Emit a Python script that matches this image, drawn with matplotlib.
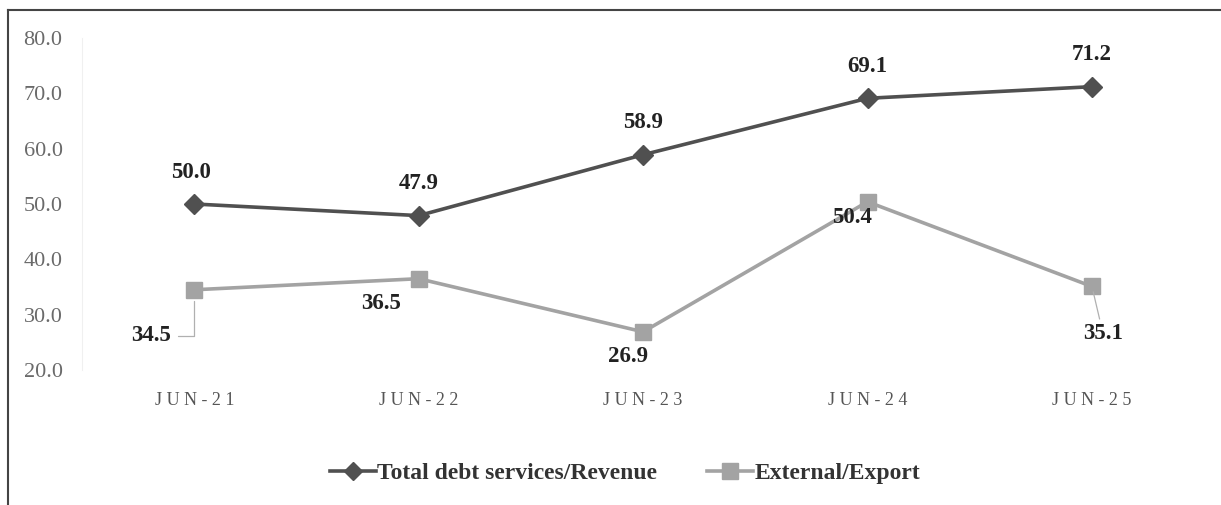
import matplotlib.pyplot as plt
from matplotlib.lines import Line2D

periods = ['JUN-21', 'JUN-22', 'JUN-23', 'JUN-24', 'JUN-25']
debt_revenue = [50.0, 47.9, 58.9, 69.1, 71.2]
external_export = [34.5, 36.5, 26.9, 50.4, 35.1]

plt.rcParams['font.family'] = ['Liberation Serif', 'DejaVu Serif']

fig = plt.figure(figsize=(12.21, 5.05), dpi=100)
ax = fig.add_axes([0.0672, 0.2673, 0.919, 0.6575])

x = list(range(len(periods)))
dark = '#505050'
light = '#a3a3a3'

ax.plot(x, debt_revenue, color=dark, linewidth=2.6, marker='D', markersize=10,
        label='Total debt services/Revenue')
ax.plot(x, external_export, color=light, linewidth=2.6, marker='s', markersize=12,
        label='External/Export')

# value labels for the revenue series sit above each point
for xi, v in zip(x, debt_revenue):
    ax.annotate(f'{v:.1f}', (xi, v), xytext=(-2 if xi == 0 else 0, 23), textcoords='offset points',
                ha='center', va='center', fontsize=16.5, fontweight='bold', color='#222222')

# export series labels, some with leader lines
offsets = [(-31, -33), (-27, -18), (-11, -18), (-11, -11), (8, -34)]
leaders = ['angle', None, None, None, 'straight']
for xi, v, off, lead in zip(x, external_export, offsets, leaders):
    props = None
    if lead == 'angle':
        props = dict(arrowstyle='-', color='#b0b0b0', lw=0.9, shrinkA=3, shrinkB=8,
                     connectionstyle='angle,angleA=0,angleB=90,rad=0')
    elif lead == 'straight':
        props = dict(arrowstyle='-', color='#b0b0b0', lw=0.9, shrinkA=1, shrinkB=4)
    ax.annotate(f'{v:.1f}', (xi, v), xytext=off, textcoords='offset points',
                ha='center', va='center', fontsize=16.5, fontweight='bold', color='#222222',
                arrowprops=props)

ax.set_xlim(-0.5, len(periods) - 0.5)
ax.set_ylim(20, 80)
ax.set_yticks(range(20, 81, 10))
ax.set_yticklabels([f'{t:.1f}' for t in range(20, 81, 10)], fontsize=16, color='#6a6a6a')
ax.set_xticks(x)
ax.set_xticklabels([' '.join(p) for p in periods], fontsize=13, color='#555555')
ax.tick_params(axis='both', length=0)
ax.tick_params(axis='x', pad=16)
ax.tick_params(axis='y', pad=14)

for side in ['top', 'right', 'bottom']:
    ax.spines[side].set_visible(False)
ax.spines['left'].set_color('#f0f0f0')

handles = [Line2D([], [], color=dark, linewidth=2.6, marker='D', markersize=9),
           Line2D([], [], color=light, linewidth=2.6, marker='s', markersize=11)]
fig.legend(handles, ['Total debt services/Revenue', 'External/Export'],
           loc='center', bbox_to_anchor=(0.512, 0.063), ncol=2, frameon=False,
           prop={'size': 17, 'weight': 'bold'}, handlelength=1.95, handletextpad=0.05,
           columnspacing=2.1, labelcolor='#333333')

# outer frame of the chart box
fig.add_artist(Line2D([0.0066, 0.0066], [0.0, 0.98], color='#444444', linewidth=1.5,
                      transform=fig.transFigure))
fig.add_artist(Line2D([0.0066, 1.0], [0.98, 0.98], color='#444444', linewidth=1.5,
                      transform=fig.transFigure))

plt.savefig('out.png', dpi=100)
